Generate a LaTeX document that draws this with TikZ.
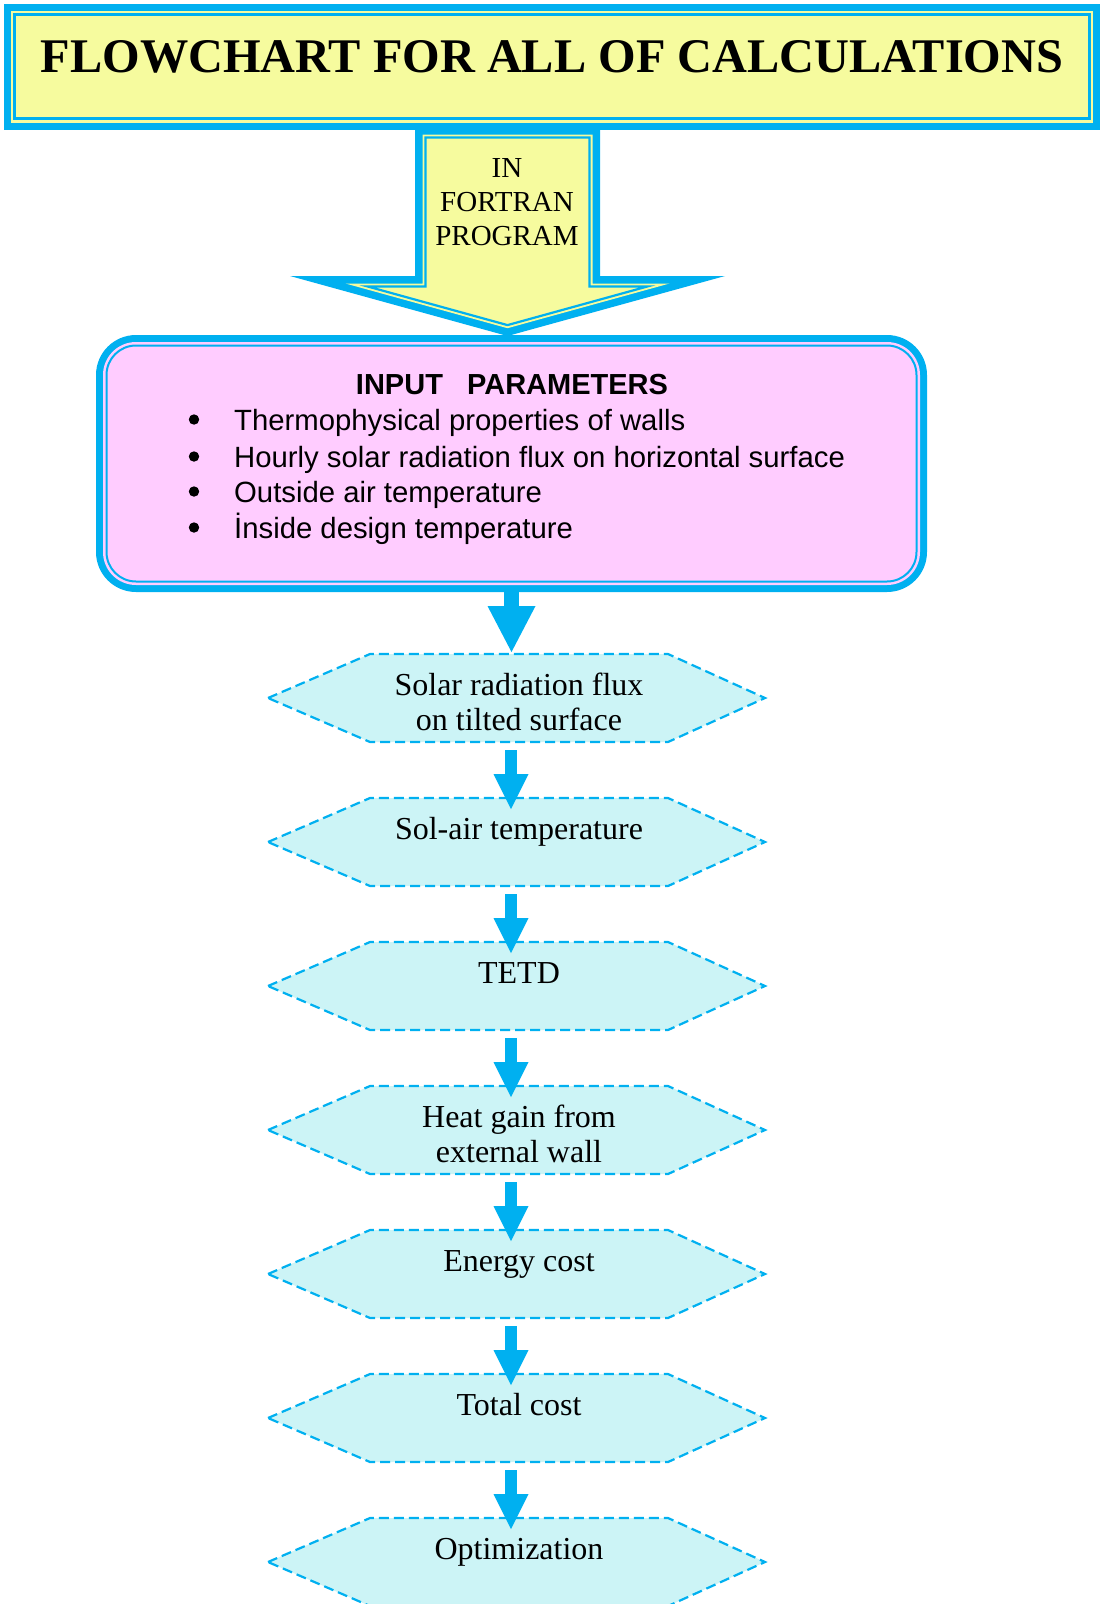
\documentclass[tikz,border=0pt]{standalone}
\usepackage{fontspec}
\setmainfont{Liberation Serif}
\newfontfamily\arialfont{Liberation Sans}
\usetikzlibrary{arrows.meta}
\definecolor{cblue}{RGB}{0,176,240}
\definecolor{cyellow}{RGB}{246,251,158}
\definecolor{cpink}{RGB}{255,204,255}
\definecolor{ccyan}{RGB}{204,244,246}
\tikzset{
  hexsty/.style={fill=ccyan, draw=cblue, line width=2.2pt, dash pattern=on 10pt off 5pt},
  hextext/.style={font=\fontsize{32}{35.5}\selectfont, align=center, inner sep=0pt, anchor=north},
  smallarrow/.style={draw=cblue, line width=12pt, -{Triangle[width=35pt,length=35pt,line width=0pt]}},
  bigarrow/.style={draw=cblue, line width=15pt, -{Triangle[width=48pt,length=46pt,line width=0pt]}},
  itemtext/.style={font=\arialfont\fontsize{29.3}{34}\selectfont, inner sep=0pt, anchor=base west},
  bulletdot/.style={fill=black},
}
\newcommand{\hexbox}[3]{%
  \path[hexsty] (268,#2+44) -- (370,#2) -- (668,#2) -- (765,#2+44) -- (668,#2+88) -- (370,#2+88) -- cycle;
  \node[hextext] (#1) at (519,#2+41-24.85) {\strut #3};
  \coordinate (#1t) at (511,#2+11);
  \coordinate (#1b) at (511,#2+96);
}
\begin{document}
\begin{tikzpicture}[x=1pt,y=-1pt]
\fill[white] (0,0) rectangle (1101,1604);
\useasboundingbox (0,0) rectangle (1101,1604);
% title box
\fill[cblue] (4,4) rectangle (1100,130);
\fill[cyellow] (11,11) rectangle (1092.5,122.5);
\draw[cblue, line width=2.5pt] (14.5,14.5) rectangle (1089.5,118.5);
\node[font=\bfseries\fontsize{48.3}{52}\selectfont, anchor=base, inner sep=0pt] (title) at (552,72) {FLOWCHART FOR ALL OF CALCULATIONS};
% block arrow
\fill[cblue] (415,127) -- (600,127) -- (600,276) -- (725,276) -- (507.5,336) -- (290,276) -- (415,276) -- cycle;
\fill[cyellow] (422.5,134.5) -- (592.5,134.5) -- (592.5,283.5) -- (669.5,283.5) -- (507.5,328.2) -- (345.5,283.5) -- (422.5,283.5) -- cycle;
\draw[cblue, line width=2.2pt, line join=miter] (425.5,137.5) -- (589.5,137.5) -- (589.5,286.5) -- (647.3,286.5) -- (507.5,325.1) -- (367.7,286.5) -- (425.5,286.5) -- cycle;
\node[font=\fontsize{29}{34}\selectfont, align=center, inner sep=0pt, anchor=north] (fortran) at (507,177-23.8) {\strut IN\\FORTRAN\\PROGRAM};
% input box
\fill[cblue, rounded corners=40pt] (96,335) rectangle (927,592);
\fill[cpink, rounded corners=33pt] (103,342) rectangle (920,585);
\draw[cblue, line width=2pt, rounded corners=29.5pt] (106.5,345.5) rectangle (916.5,581.5);
\node[font=\arialfont\bfseries\fontsize{29}{34}\selectfont, anchor=base, inner sep=0pt] (inhead) at (512,394) {INPUT~~~PARAMETERS};
\fill[bulletdot] (194,419.5) circle (5.2);
\fill[bulletdot] (194,456.5) circle (5.2);
\fill[bulletdot] (194,491.5) circle (5.2);
\fill[bulletdot] (194,527.5) circle (5.2);
\node[itemtext] (it1) at (234,430) {Thermophysical properties of walls};
\node[itemtext] (it2) at (234,467) {Hourly solar radiation flux on horizontal surface};
\node[itemtext] (it3) at (234,502) {Outside air temperature};
\node[itemtext] (it4) at (234,538) {İnside design temperature};
\coordinate (inbot) at (511.5,590);
\coordinate (h1in) at (511.5,652);
% hexagons
\hexbox{h1}{654}{Solar radiation flux\\on tilted surface}
\hexbox{h2}{798}{Sol-air temperature}
\hexbox{h3}{942}{TETD}
\hexbox{h4}{1086}{Heat gain from\\external wall}
\hexbox{h5}{1230}{Energy cost}
\hexbox{h6}{1374}{Total cost}
\hexbox{h7}{1518}{Optimization}
% connectors
\draw[bigarrow] (inbot) -- (h1in);
\draw[smallarrow] (h1b) -- (h2t);
\draw[smallarrow] (h2b) -- (h3t);
\draw[smallarrow] (h3b) -- (h4t);
\draw[smallarrow] (h4b) -- (h5t);
\draw[smallarrow] (h5b) -- (h6t);
\draw[smallarrow] (h6b) -- (h7t);
\end{tikzpicture}
\end{document}
